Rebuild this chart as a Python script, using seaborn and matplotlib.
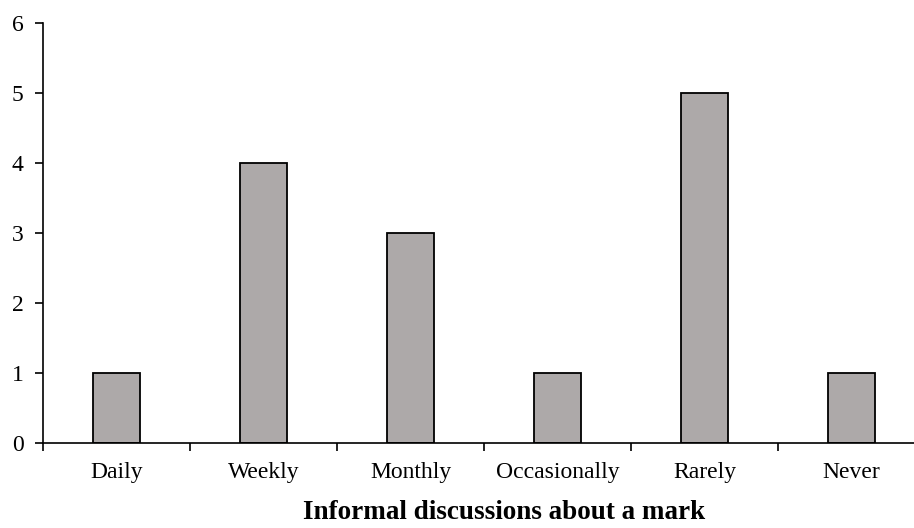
import matplotlib
matplotlib.use("Agg")
import matplotlib.pyplot as plt
import seaborn as sns
import pandas as pd
import numpy as np

# 数据
categories = ['Daily', 'Weekly', 'Monthly', 'Occasionally', 'Rarely', 'Never']
counts = [1, 4, 3, 1, 5, 1]

sns.set_style("white")
plt.rcParams['font.family'] = ['Liberation Serif', 'DejaVu Serif']
plt.rcParams['text.color'] = 'black'
plt.rcParams['xtick.color'] = 'black'
plt.rcParams['ytick.color'] = 'black'
plt.rcParams['axes.labelcolor'] = 'black'

df = pd.DataFrame({'freq': categories, 'count': counts})

fig = plt.figure(figsize=(9.14, 5.28), dpi=100)
# 坐标轴右端超出画布一点（原图如此）
ax = fig.add_axes([43 / 914, 1 - 443 / 528, 882 / 914, 420 / 528])

sns.barplot(data=df, x='freq', y='count', order=categories, color='#ADA9A9',
            saturation=1, width=0.32, edgecolor='black', linewidth=1.3, ax=ax)

ax.set_xlim(-0.5, len(categories) - 0.5)
ax.set_ylim(0, 6)
ax.set_yticks(range(0, 7))

# x 轴刻度放在类别之间
ax.set_xticks(np.arange(-0.5, len(categories) - 0.5, 1), minor=True)
ax.tick_params(axis='x', which='major', bottom=True, length=0, pad=14, labelsize=17)
ax.tick_params(axis='x', which='minor', bottom=True, length=6, width=1.2, direction='out', color='black')
ax.tick_params(axis='y', left=True, length=6, width=1.2, direction='out', color='black', labelsize=17, pad=8)

for s in ['top', 'right']:
    ax.spines[s].set_visible(False)
for s in ['left', 'bottom']:
    ax.spines[s].set_color('black')
    ax.spines[s].set_linewidth(1.2)

ax.set_ylabel('')
ax.set_xlabel('Informal discussions about a mark', fontsize=19.5, fontweight='bold')
ax.xaxis.set_label_coords(0.523, -0.135)

fig.savefig('out.png', dpi=100)
